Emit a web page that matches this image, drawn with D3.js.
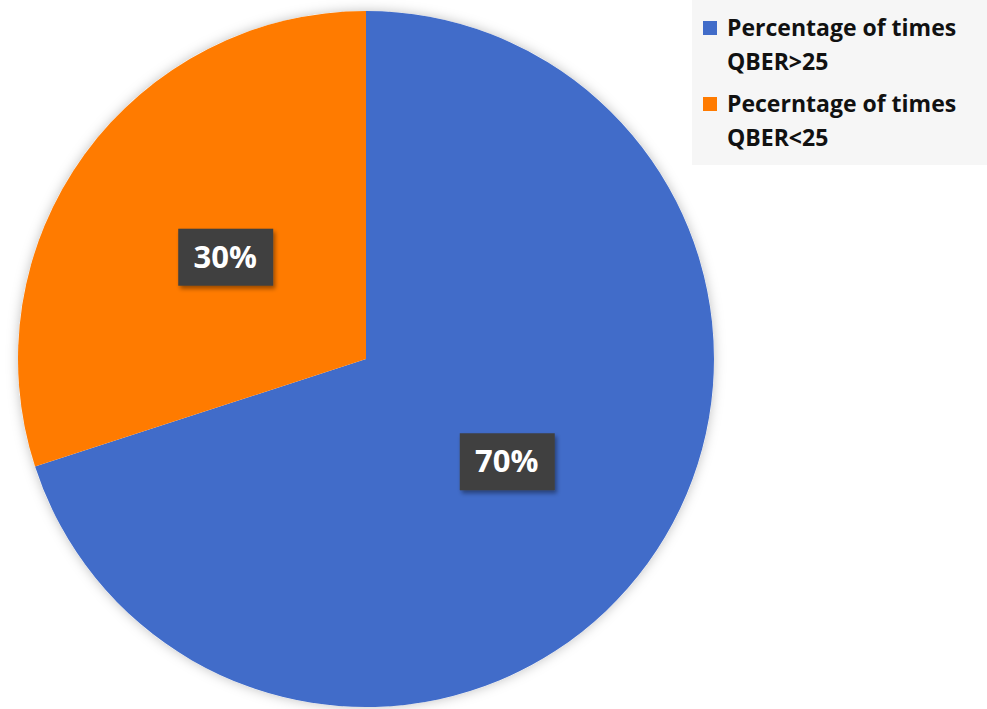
<!DOCTYPE html>
<html><head><meta charset="utf-8">
<script src="https://cdn.jsdelivr.net/npm/d3@7"></script>
<style>body{margin:0;background:#fff;}svg{display:block;}</style>
</head><body>
<script>
const categories = ["Percentage of times QBER>25", "Pecerntage of times QBER<25"];
const legendLines = [["Percentage of times", "QBER>25"], ["Pecerntage of times", "QBER<25"]];
const values = [70, 30];
const labels = ["70%", "30%"];
const colors = ["#416CC9", "#FF7B00"];

const W = 987, H = 709;
const svg = d3.select("body").append("svg").attr("width", W).attr("height", H);
const defs = svg.append("defs");
const f = defs.append("filter").attr("id","sh").attr("x","-20%").attr("y","-20%").attr("width","140%").attr("height","140%");
f.append("feDropShadow").attr("dx",0).attr("dy",0).attr("stdDeviation",6).attr("flood-color","#000").attr("flood-opacity",0.25);
const f2 = defs.append("filter").attr("id","sh2").attr("x","-20%").attr("y","-20%").attr("width","140%").attr("height","140%");
f2.append("feDropShadow").attr("dx",2).attr("dy",3).attr("stdDeviation",2).attr("flood-color","#000").attr("flood-opacity",0.4);

const cx = 366, cy = 359, r = 348;
const pie = d3.pie().sort(null).value(d => d)(values);
const arc = d3.arc().innerRadius(0).outerRadius(r);
const g = svg.append("g").attr("transform", `translate(${cx},${cy})`);
g.append("circle").attr("r", r).attr("fill", "#fff").attr("filter","url(#sh)");
g.selectAll("path").data(pie).enter().append("path")
  .attr("d", arc).attr("fill", (d,i) => colors[i]);

const lg = g.selectAll("g.lab").data(pie).enter().append("g")
  .attr("transform", d => `translate(${arc.centroid(d)})`);
lg.append("rect").attr("x", -47).attr("y", -28).attr("width", 95).attr("height", 57)
  .attr("fill", "#404040").attr("filter","url(#sh2)");
lg.append("text").text((d,i) => labels[i]).attr("text-anchor","middle").attr("dy","0.35em")
  .attr("fill","#fff").attr("font-family","'Open Sans', Lato, sans-serif").attr("font-weight","bold").attr("font-size",31);

// legend
const leg = svg.append("g");
leg.append("rect").attr("x", 692).attr("y", 0).attr("width", 295).attr("height", 165).attr("fill", "#f6f6f6");
const items = leg.selectAll("g.item").data(categories).enter().append("g")
  .attr("transform", (d,i) => `translate(703, ${21 + i*76})`);
items.append("rect").attr("width", 14).attr("height", 14).attr("fill", (d,i) => colors[i]);
items.each(function(d,i){
  const t = d3.select(this).append("text").attr("x", 24).attr("y", 15)
    .attr("font-family","'Open Sans', Lato, sans-serif").attr("font-weight","bold").attr("font-size",23).attr("fill","#111");
  legendLines[i].forEach((ln, j) => t.append("tspan").attr("x", 24).attr("dy", j === 0 ? 0 : 34).text(ln));
});
</script>
</body></html>
